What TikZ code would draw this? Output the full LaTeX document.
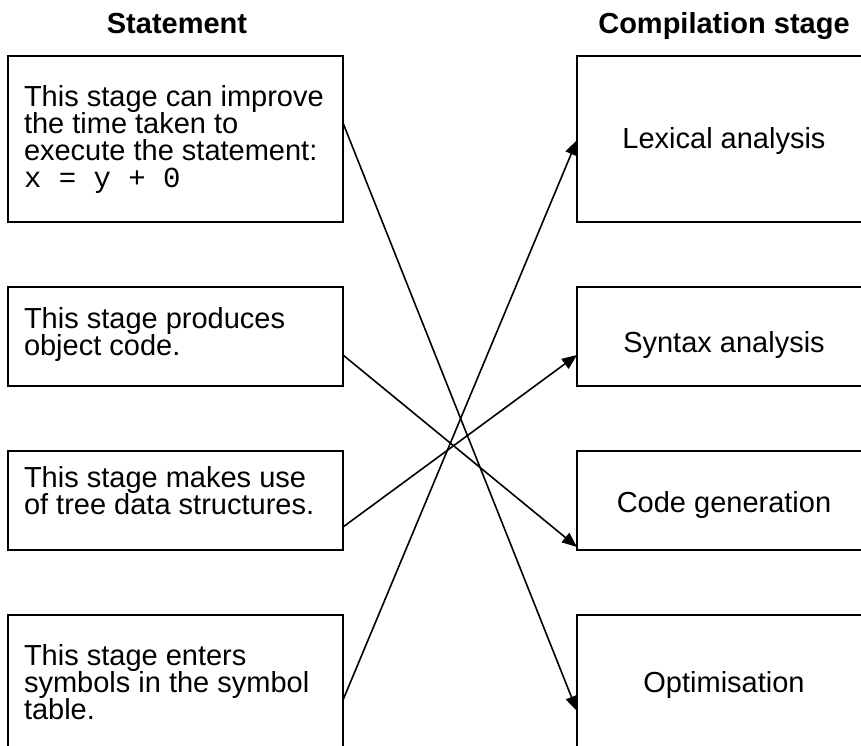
\documentclass[tikz,border=0pt]{standalone}
\usepackage{fontspec}
\setmainfont{Liberation Sans}
\setmonofont{Liberation Mono}
\usetikzlibrary{arrows.meta}
\newcommand{\stmttext}[1]{\parbox[t]{318pt}{\fontsize{29}{27.2}\selectfont\raggedright #1}}
\tikzset{
  box/.style={draw=black, line width=2.6pt, rectangle, inner sep=0pt, outer sep=0pt},
  txt/.style={inner sep=0pt, outer sep=0pt, anchor=base west},
  lbl/.style={inner sep=0pt, outer sep=0pt, anchor=base, font=\fontsize{29}{34}\selectfont},
  hdr/.style={inner sep=0pt, outer sep=0pt, anchor=base, font=\fontsize{29}{34}\selectfont\bfseries},
  link/.style={line width=1.6pt, -{Triangle[length=15pt,width=12pt]}}
}
\begin{document}
\begin{tikzpicture}[x=1pt,y=-1pt]
\useasboundingbox (0,0) rectangle (861,745);
\clip (0,0) rectangle (861,745);
\fill[white] (0,0) rectangle (861,745);
% headers
\node[hdr] (h1) at (177,33) {Statement};
\node[hdr] (h2) at (724,33) {Compilation stage};
% left boxes
\node[box, minimum width=335pt, minimum height=166pt] (b1) at (175.5,139) {};
\node[box, minimum width=335pt, minimum height=99pt] (b2) at (175.5,336.5) {};
\node[box, minimum width=335pt, minimum height=99pt] (b3) at (175.5,500.5) {};
\node[box, minimum width=335pt, minimum height=166pt] (b4) at (175.5,698) {};
% right boxes
\node[box, minimum width=294pt, minimum height=166pt] (r1) at (724,139) {};
\node[box, minimum width=294pt, minimum height=99pt] (r2) at (724,336.5) {};
\node[box, minimum width=294pt, minimum height=99pt] (r3) at (724,500.5) {};
\node[box, minimum width=294pt, minimum height=166pt] (r4) at (724,698) {};
% left texts
\node[txt] (t1) at (24,106) {\stmttext{This stage can improve\\the time taken to\\execute the statement:\\{\ttfamily x = y + 0}}};
\node[txt] (t2) at (24,328) {\stmttext{This stage produces\\object code.}};
\node[txt] (t3) at (24,487) {\stmttext{This stage makes use\\of tree data structures.}};
\node[txt] (t4) at (24,665) {\stmttext{This stage enters\\symbols in the symbol\\table.}};
% right texts
\node[lbl] (s1) at (724,148) {Lexical analysis};
\node[lbl] (s2) at (724,352) {Syntax analysis};
\node[lbl] (s3) at (724,512) {Code generation};
\node[lbl] (s4) at (724,692) {Optimisation};
% connectors
\draw[link] (b1.east |- 0,123) -- (r4.west |- 0,711);
\draw[link] (b2.east |- 0,355) -- (r3.west |- 0,547);
\draw[link] (b3.east |- 0,527) -- (r2.west |- 0,355);
\draw[link] (b4.east |- 0,700) -- (r1.west |- 0,140);
\end{tikzpicture}
\end{document}
